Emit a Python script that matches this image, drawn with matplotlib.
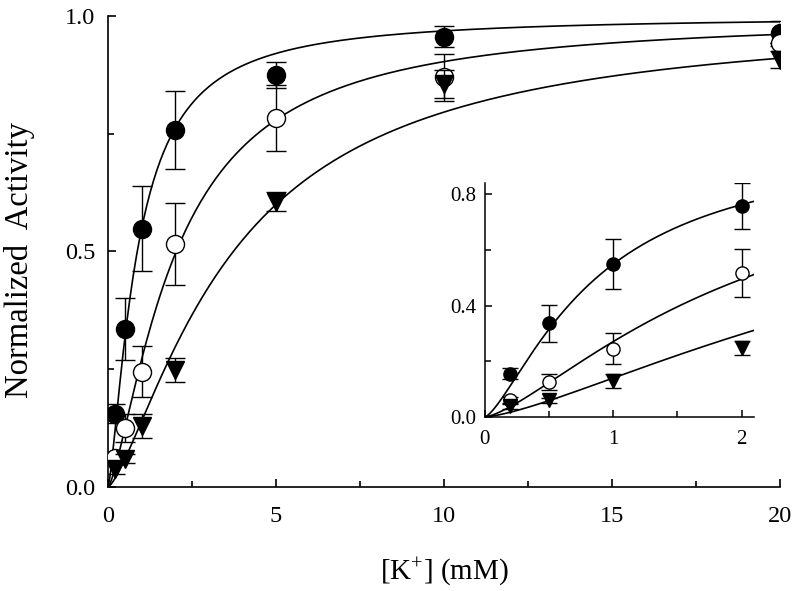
import numpy as np
import matplotlib
matplotlib.use("Agg")
import matplotlib.pyplot as plt

plt.rcParams['font.family'] = ['Liberation Serif', 'DejaVu Serif']
plt.rcParams['mathtext.fontset'] = 'custom'
plt.rcParams['mathtext.rm'] = 'Liberation Serif'
plt.rcParams['mathtext.it'] = 'Liberation Serif:italic'

# ---- data ----
conc = [0.2, 0.5, 1, 2, 5, 10, 20]

filled_y = [0.156, 0.336, 0.548, 0.758, 0.875, 0.956, 0.963]
filled_err = [0.02, 0.066, 0.09, 0.082, 0.027, 0.022, 0.026]

open_y = [0.062, 0.126, 0.245, 0.516, 0.783, 0.870, 0.942]
open_err = [0.01, 0.03, 0.055, 0.087, 0.07, 0.05, 0.0]

tri_y = [0.038, 0.06, 0.13, 0.248, 0.606, 0.855, 0.907]
tri_err = [0.01, 0.01, 0.025, 0.025, 0.02, 0.03, 0.018]

# Hill fit parameters (K, n) for each series
filled_fit = (0.87, 1.40)
open_fit = (2.03, 1.40)
tri_fit = (3.73, 1.38)

main_xticks = [0, 5, 10, 15, 20]
main_yticks = [0.0, 0.5, 1.0]
inset_xticks = [0, 1, 2]
inset_yticks = [0.0, 0.4, 0.8]


def hill(x, K, n):
    return x ** n / (K ** n + x ** n)


fig = plt.figure(figsize=(8.0, 5.91), dpi=100)
ax = fig.add_axes([0.135, 0.176, 0.840, 0.797])
ins = fig.add_axes([0.606, 0.2944, 0.337, 0.396])


def draw(a, xmax, ms, cap, lw_err, mask):
    xs = np.linspace(0, xmax, 400)
    for fit in (filled_fit, open_fit, tri_fit):
        a.plot(xs, hill(xs, *fit), color='black', lw=1.2, zorder=2)
    series = [
        (filled_y, filled_err, 'o', 'black'),
        (open_y, open_err, 'o', 'white'),
        (tri_y, tri_err, 'v', 'black'),
    ]
    z = 3
    for ys, es, mk, fc in series:
        xx = [c for c, m in zip(conc, mask) if m]
        yy = [y for y, m in zip(ys, mask) if m]
        ee = [e for e, m in zip(es, mask) if m]
        a.errorbar(xx, yy, yerr=ee, fmt='none', ecolor='black', elinewidth=lw_err,
                   capsize=cap, capthick=lw_err, zorder=z)
        a.plot(xx, yy, linestyle='none', marker=mk, markersize=ms if mk == 'o' else ms * 1.05,
               markerfacecolor=fc, markeredgecolor='black', markeredgewidth=1.0, zorder=z + 1)
        z += 2


draw(ax, 20, 13, 7, 1.0, [True] * 7)
draw(ins, 2.1, 9.5, 6, 1.0, [True, True, True, True, False, False, False])

# main axes styling
ax.set_xlim(0, 20)
ax.set_ylim(0, 1.0)
ax.set_xticks(main_xticks)
ax.set_xticklabels([str(t) for t in main_xticks])
ax.set_yticks(main_yticks)
ax.set_yticklabels(['%.1f' % t for t in main_yticks])
ax.set_xticks([2.5, 7.5, 12.5, 17.5], minor=True)
ax.set_yticks([0.25, 0.75], minor=True)
for s in ('top', 'right'):
    ax.spines[s].set_visible(False)
for s in ('left', 'bottom'):
    ax.spines[s].set_linewidth(1.2)
ax.tick_params(which='major', direction='in', length=6, width=1.2, labelsize=17.5)
ax.tick_params(which='minor', direction='in', length=4, width=1.2)
ax.tick_params(axis='x', which='major', pad=14)
ax.tick_params(axis='y', which='major', pad=9)
ax.set_xlabel('[K$^{+}$] (mM)', fontsize=21, labelpad=20)
ax.set_ylabel('Normalized  Activity', fontsize=23.5)
ax.yaxis.set_label_coords(-0.108, 0.482)

# inset styling
ins.set_xlim(0, 2.1)
ins.set_ylim(0, 0.84)
ins.set_xticks(inset_xticks)
ins.set_xticklabels([str(t) for t in inset_xticks])
ins.set_yticks(inset_yticks)
ins.set_yticklabels(['%.1f' % t for t in inset_yticks])
ins.set_xticks([0.5, 1.5], minor=True)
ins.set_yticks([0.2, 0.6], minor=True)
ins.patch.set_alpha(0)
for s in ('top', 'right'):
    ins.spines[s].set_visible(False)
for s in ('left', 'bottom'):
    ins.spines[s].set_linewidth(1.1)
ins.tick_params(which='major', direction='in', length=5, width=1.1, labelsize=15)
ins.tick_params(which='minor', direction='in', length=4, width=1.1)
ins.tick_params(axis='x', which='major', pad=9)
ins.tick_params(axis='y', which='major', pad=6)

fig.savefig('out.png', dpi=100)
